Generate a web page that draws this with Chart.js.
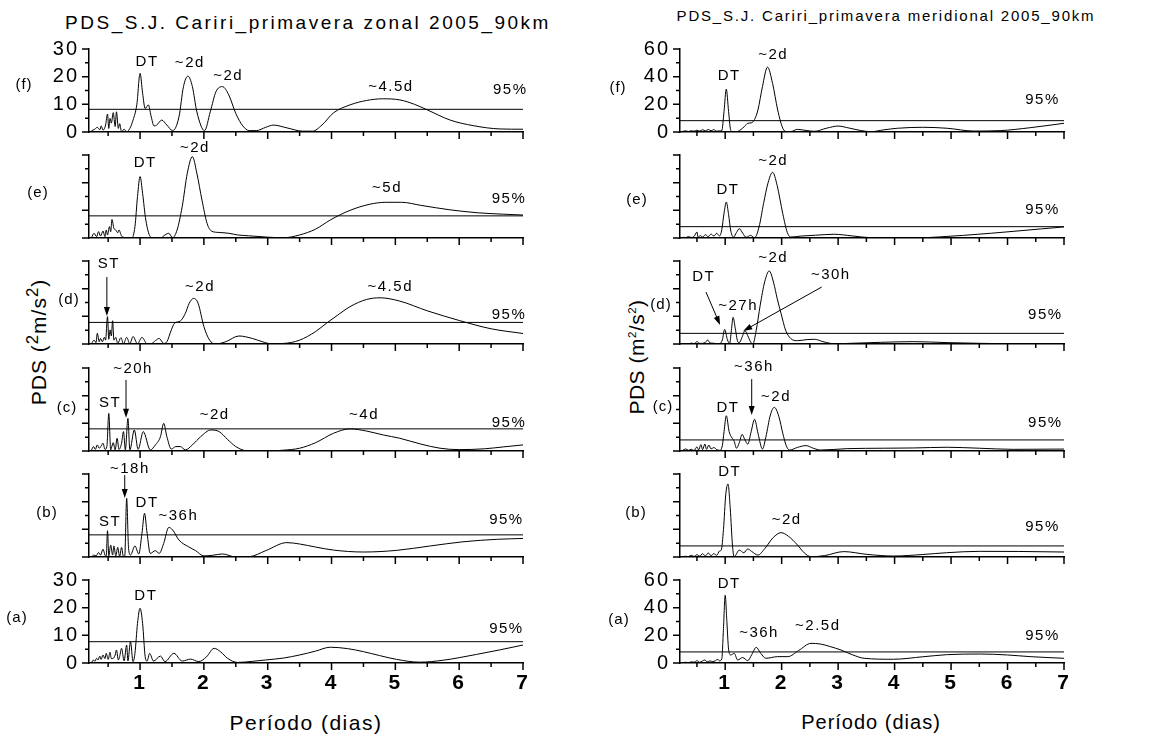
<!DOCTYPE html>
<html>
<head>
<meta charset="utf-8">
<script src="https://cdn.jsdelivr.net/npm/chart.js@4.4.0/dist/chart.umd.min.js"></script>
<style>
  body { margin: 0; width: 1164px; height: 737px; background: #fff; position: relative; overflow: hidden;
         font-family: "Liberation Sans", Arial, sans-serif; color: #000; }
  canvas { position: absolute; }
  .t { position: absolute; white-space: nowrap; line-height: 1; transform: translate(-50%, -50%); }
  .rot { transform: translate(-50%, -50%) rotate(-90deg); }
  .big { font-size: 0.8em; }
  .small { font-size: 0.55em; }
</style>
</head>
<body>

<div class="t" style="left:308px;top:22px;font-size:19px;letter-spacing:2.5px">PDS_S.J. Cariri_primavera zonal 2005_90km</div>
<div class="t" style="left:886px;top:15px;font-size:15px;letter-spacing:1.8px">PDS_S.J. Cariri_primavera meridional 2005_90km</div>
<div class="t" style="left:306px;top:722px;font-size:21px;letter-spacing:1.5px">Período (dias)</div>
<div class="t" style="left:871px;top:722px;font-size:20px;letter-spacing:1px">Período (dias)</div>
<div class="t rot" style="left:37px;top:342px;font-size:21px;letter-spacing:1px">PDS (<sup class="big">2</sup>m/s<sup class="big">2</sup>)</div>
<div class="t rot" style="left:636px;top:357px;font-size:21px;letter-spacing:0.5px">PDS (m<sup class="small">2</sup>/s<sup class="small">2</sup>)</div>

<script>
// zonal wind spectra, panels (a)..(f)
const periodZA = [0.24,0.27,0.29,0.32,0.34,0.37,0.39,0.42,0.45,0.47, 0.5,0.53,0.55,0.58,0.61,0.63,0.66,0.68,0.71,0.75,
                  0.79,0.81,0.85,0.89,0.92,0.96,1.0,1.04,1.08,1.11, 1.15,1.21,1.32,1.39,1.53,1.66,1.79,1.92,2.04,2.16,
                  2.26,2.37,2.53,2.76,2.97,3.25,3.5,3.75,3.98,4.25, 4.5,4.75,5.02,5.38,5.75,6.27,6.65,7.0];
const pdsZA    = [0.2,1.1,0.6,1.7,1.1,2.5,1.3,2.9,1.6,3.5, 1.3,3.9,1.6,1.7,2.9,4.7,1.1,2.3,5.3,0.8,
                  6.5,0.8,7.7,0.5,3.5,14.3,19.8,14.3,2.3,0.7, 3.5,0.7,2.5,0.5,3.5,0.7,1.4,0.5,2.2,5.3,
                  4.1,1.7,0.2,0.6,1.1,1.8,2.9,4.3,5.7,5.2, 4.1,2.7,1.3,0.3,1.0,3.1,4.8,6.5];

const periodZB = [0.24,0.28,0.31,0.35,0.38,0.42,0.45,0.47,0.49,0.51, 0.54,0.57,0.59,0.62,0.65,0.68,0.71,0.74,0.76,0.79,
                  0.82,0.85,0.92,0.98,1.03,1.07,1.11,1.16,1.24,1.3, 1.37,1.45,1.51,1.61,1.76,1.87,2.0,2.13,2.29,2.5,
                  2.71,2.97,3.3,3.5,3.75,4.03,4.5,5.02,5.55,6.06, 6.6,7.0];
const pdsZB    = [0.1,0.7,0.4,1.6,0.7,2.8,0.7,0.1,9.5,0.4, 4.3,0.7,4.0,0.4,3.5,0.1,3.5,0.1,0.2,21.2,
                  3.1,0.7,4.0,1.1,8.6,15.8,8.6,1.3,2.3,1.3, 4.9,10.7,9.8,6.1,3.7,2.3,0.4,0.6,1.1,0,
                  0.1,2.3,5.2,4.7,3.6,2.5,1.8,2.4,4.0,5.5, 6.4,6.7];

const periodZC = [0.24,0.27,0.3,0.33,0.36,0.39,0.42,0.45,0.48,0.51, 0.54,0.56,0.58,0.61,0.64,0.67,0.71,0.74,0.77,0.81,
                  0.84,0.91,0.97,1.05,1.16,1.24,1.32,1.37,1.42,1.49, 1.56,1.63,1.71,1.82,1.95,2.11,2.24,2.37,2.5,2.66,
                  2.8,3.0,3.25,3.5,3.75,4.03,4.29,4.55,4.81,5.07, 5.4,5.7,6.0,6.4,6.7,7.0];
const pdsZC    = [0.4,1.6,0.6,2.2,1.0,1.8,2.8,0.6,1.6,13.6, 0.4,1.8,3.0,0.4,4.6,0.6,2.8,7.0,0.4,11.8,
                  0.4,7.6,0.6,7.0,0.4,2.2,5.2,10.0,5.2,0.7, 1.6,1.6,0.4,2.2,5.2,7.6,7.0,4.2,1.6,0.1,
                  0,0,0.3,1.0,3.0,6.4,8.0,7.2,5.8,4.6, 2.5,1.0,0.5,0.8,1.5,2.2];

const periodZD = [0.24,0.28,0.31,0.33,0.36,0.38,0.41,0.44,0.46,0.49, 0.51,0.53,0.55,0.57,0.59,0.62,0.65,0.7,0.74,0.79,
                  0.84,0.89,0.96,1.03,1.11,1.18,1.24,1.3,1.37,1.42, 1.49,1.54,1.63,1.71,1.77,1.84,1.91,2.0,2.09,2.18,
                  2.34,2.55,2.76,2.92,3.05,3.25,3.5,3.75,3.92,4.1, 4.29,4.55,4.76,5.07,5.5,6.0,6.5,7.0];
const pdsZD    = [0.2,1.4,0.5,3.9,0.8,2.0,0.8,2.4,1.4,9.9, 1.7,5.1,2.9,8.4,1.4,2.4,0.2,2.3,0.1,2.4,
                  0.1,2.7,0.1,2.4,0.1,0.2,1.2,2.0,0.2,0.8, 5.1,7.5,8.3,11.1,14.7,16.5,14.7,6.3,1.4,0,
                  0.8,2.9,2.0,0.8,0.1,0.2,1.4,4.5,7.5,10.5, 13.5,16.1,16.7,15.5,12,8.5,5.5,3.8];

const periodZE = [0.24,0.28,0.32,0.35,0.38,0.42,0.45,0.47,0.49,0.52, 0.54,0.56,0.59,0.62,0.65,0.67,0.71,0.75,0.82,0.87,
                  0.92,0.96,1.0,1.04,1.09,1.16,1.21,1.32,1.39,1.45, 1.51,1.58,1.66,1.74,1.82,1.89,1.97,2.05,2.12,2.24,
                  2.39,2.53,2.7,3.0,3.25,3.5,3.75,3.98,4.29,4.6, 4.85,5.1,5.4,5.85,6.3,6.7,7.0];
const pdsZE    = [0.2,1.7,0.5,2.3,0.7,2.5,0.5,2.9,1.1,4.1, 2.3,6.7,3.5,2.9,1.9,2.9,0.7,0.2,0,0,
                  4.1,15,22.2,16.1,6.5,0.5,0,0,1.1,1.7, 0.1,2.9,11.3,23.4,29.4,23.4,13.7,5.3,2.5,2.0,
                  1.7,1.1,0.8,0.3,0.1,1.1,3.2,6.5,10,12.2, 12.9,12.9,11.8,10.2,9.1,8.6,8.3];

const periodZF = [0.24,0.29,0.33,0.37,0.39,0.42,0.46,0.49,0.51,0.53, 0.55,0.58,0.61,0.63,0.66,0.68,0.71,0.75,0.79,0.84,
                  0.89,0.95,1.0,1.04,1.08,1.13,1.17,1.22,1.26,1.34, 1.42,1.51,1.61,1.68,1.75,1.82,1.89,2.01,2.1,2.19,
                  2.29,2.39,2.5,2.61,2.71,2.82,2.97,3.09,3.3,3.55, 3.7,3.85,4.03,4.29,4.55,4.8,5.07,5.3,5.5,5.86,
                  6.22,6.64,7.0];
const pdsZF    = [0.5,1.0,1.7,0.8,2.2,0.7,2.5,6.5,1.3,4.9, 3.2,7.0,2.0,7.3,1.3,3.0,0.1,1.0,0.1,1.3,
                  4.3,10.0,21.2,14.0,8.5,9.8,6.0,2.2,2.5,4.3, 2.5,0.5,5.5,16.4,20.2,16.4,7.3,0.5,7.3,14.6,
                  16.4,13.4,6.7,2.2,0.5,0.5,1.7,2.5,1.5,0.3, 0.3,2.5,6.9,9.8,11.4,12.0,11.6,10.0,8.0,4.3,
                  2.3,1.1,1.0];

// meridional wind spectra, panels (a)..(f)
const periodMA = [0.25,0.3,0.35,0.4,0.45,0.5,0.55,0.6,0.64,0.68, 0.73,0.78,0.83,0.87,0.9,0.94,0.97,1.0,1.03,1.06,
                  1.1,1.16,1.22,1.31,1.4,1.47,1.55,1.63,1.72,1.93, 2.11,2.3,2.52,2.69,2.85,3.05,3.25,3.46,3.98,4.5,
                  4.92,5.51,6.0,6.4,7.0];
const pdsMA    = [0.2,0.5,0.3,0.8,0.6,1.7,0.5,1.5,2.2,0.8, 1.5,1,1.7,2.7,1.5,3,25,49,30,10,
                  5.8,7,2.2,3.9,1.7,6,11.3,7,3.4,4.6, 4.6,9,14.2,13.7,12,9.4,6,3.4,2.7,4.5,
                  6,6.5,5.8,4.6,3.4];

const periodMB = [0.25,0.3,0.35,0.4,0.45,0.5,0.55,0.6,0.65,0.7, 0.75,0.8,0.85,0.9,0.93,0.97,1.01,1.05,1.09,1.13,
                  1.16,1.25,1.33,1.4,1.47,1.58,1.7,1.85,1.99,2.12, 2.28,2.4,2.52,2.76,3.1,3.51,3.98,4.5,4.92,5.51,
                  6.2,7.0];
const pdsMB    = [0.3,0.5,0.3,1.2,0.4,1.7,0.6,2.4,0.8,2.9, 1,2.4,1.2,4.3,5,20,45,52.8,35,8,
                  0.2,5,3.1,5.8,4,1.4,6,14,17.6,15, 8.7,3,0.2,1,3.9,1.9,0.7,1.8,3.1,4.1,
                  4,3.6];

const periodMC = [0.25,0.3,0.35,0.4,0.45,0.5,0.53,0.57,0.6,0.64, 0.67,0.71,0.75,0.8,0.85,0.9,0.95,0.98,1.02,1.07,
                  1.12,1.16,1.2,1.25,1.3,1.35,1.4,1.46,1.52,1.58, 1.66,1.72,1.8,1.87,1.95,2.02,2.08,2.14,2.28,2.43,
                  2.56,2.69,3.16,3.8,4.34,4.93,5.5,6.1,7.0];
const pdsMC    = [0.5,1.5,0.5,1.2,0.3,3,0.8,4.6,1,5, 1.2,4.3,1.5,2.5,1,0.5,4,14,25.5,14,
                  9.5,7,2,6,12,8,5,14,22.9,13, 1.4,10,26,31.6,25,12.8,4,0.7,2.6,3.9,
                  2,0.7,1.7,2,2.2,2.7,2,1.2,1.4];

const periodMD = [0.25,0.3,0.35,0.4,0.45,0.5,0.55,0.6,0.65,0.69, 0.73,0.78,0.84,0.9,0.95,0.99,1.04,1.08,1.11,1.14,
                  1.18,1.22,1.25,1.3,1.35,1.4,1.45,1.49,1.55,1.62, 1.7,1.78,1.86,1.92,1.99,2.07,2.16,2.28,2.45,2.58,
                  2.75,2.93,3.3,3.75,4.34,4.93,5.5,6.1,7.0];
const pdsMD    = [0,0.3,0.2,0.6,0.3,1.7,0.4,0.5,1.2,2.9, 0.8,0.6,0.3,0.2,3,10.6,3,0.5,10,19.3,
                  11,2,1,5,9.6,6,1.5,0,10,28, 45,52.8,44,33,22,10,4,2.4,3.2,3.4,
                  1.5,0.2,0.6,1.2,1.7,1,0.5,0.2,0.2];

const periodME = [0.25,0.3,0.35,0.4,0.45,0.5,0.52,0.56,0.6,0.65, 0.7,0.75,0.8,0.85,0.9,0.94,0.98,1.02,1.06,1.1,
                  1.15,1.2,1.25,1.31,1.37,1.45,1.52,1.6,1.68,1.76, 1.84,1.92,2.02,2.1,2.16,2.34,2.6,2.93,3.25,3.58,
                  4.0,4.34,4.8,5.22,5.7,6.1,6.6,7.0];
const pdsME    = [0.5,0.3,1.0,0.4,1.2,4.3,0.6,1.7,0.7,2.4, 1.0,2.9,1.4,3.4,1.5,6,18,26,17,5,
                  0.7,4,6.7,3.5,0.5,1.9,0.2,8,25,40, 47.5,38,17.6,4,0.7,1.4,2,2.7,1.5,0.2,
                  0,0,0.8,1.9,3.4,4.8,6.6,8];

const periodMF = [0.25,0.3,0.35,0.4,0.45,0.5,0.55,0.6,0.65,0.7, 0.75,0.8,0.85,0.9,0.94,0.98,1.02,1.06,1.1,1.16,
                  1.22,1.34,1.4,1.47,1.52,1.58,1.66,1.75,1.84,1.93, 2.02,2.08,2.16,2.28,2.45,2.58,2.8,3.0,3.2,3.4,
                  3.58,3.8,4.05,4.5,4.93,5.4,5.87,6.4,7.0];
const pdsMF    = [0.5,0.8,0.4,0.9,0.6,1.3,0.7,1.6,0.8,1.8, 0.9,1.7,0.6,0.8,1.0,15,31,15,1.0,0,
                  0.3,3.9,6.3,6.7,9,15.9,32.8,46.9,35,15.9, 2.7,0.3,0.3,1.9,1.0,0.5,2.8,4.3,2.8,1.1,
                  0.2,1.5,2.7,3.4,2.7,0.7,1.0,3.1,6.3];

// 95% confidence levels, (a)..(f)
const sig95Zonal = [7.7, 8.0, 8.0, 7.8, 8.0, 8.2];
const sig95Merid = [8.0, 8.0, 8.0, 7.7, 8.2, 8.2];

const periodTicks = [0.5,1,1.5,2,2.5,3,3.5,4,4.5,5,5.5,6,6.5,7];
const zonalTicks = [0,5,10,15,20,25,30];
const meridTicks = [0,10,20,30,40,50,60];

const FONT = '"Liberation Sans", Arial, sans-serif';
const PLOT_H = 83, PAD_TOP = 40;
const bases = [663, 557, 451, 344, 238, 132]; // zero line of (a)..(f)

const columns = [
  { left: 0,   width: 560, plotLeft: 89,  plotRight: 523,  ticks: zonalTicks, major: 10 },
  { left: 580, width: 584, plotLeft: 680, plotRight: 1064, ticks: meridTicks, major: 20 }
];

// notes: [text, period, pds]; arrows: [fromPeriod, fromPds, toPeriod, toPds]
const panels = [
  { col: 0, row: 5, tag: '(f)', tagAt: [24, 85], period: periodZF, pds: pdsZF, sig: sig95Zonal[5],
    notes: [['DT', 1.11, 25.3], ['~2d', 1.78, 24.9], ['~2d', 2.38, 20.2], ['~4.5d', 4.93, 16.3], ['95%', 6.8, 15.2]], arrows: [] },
  { col: 0, row: 4, tag: '(e)', tagAt: [38, 193], period: periodZE, pds: pdsZE, sig: sig95Zonal[4],
    notes: [['DT', 1.08, 27.1], ['~2d', 1.86, 32.5], ['~5d', 4.87, 18], ['95%', 6.78, 14.1]], arrows: [] },
  { col: 0, row: 3, tag: '(d)', tagAt: [69, 300], period: periodZD, pds: pdsZD, sig: sig95Zonal[3],
    notes: [['ST', 0.51, 28.9], ['~2d', 1.94, 20.6], ['~4.5d', 4.92, 20.6], ['95%', 6.78, 10.5]],
    arrows: [[0.48, 24.2, 0.48, 10.1]] },
  { col: 0, row: 2, tag: '(c)', tagAt: [67, 408], period: periodZC, pds: pdsZC, sig: sig95Zonal[2],
    notes: [['~20h', 0.89, 29.6], ['ST', 0.53, 17.3], ['~2d', 2.17, 13], ['~4d', 4.51, 13], ['95%', 6.78, 10.1]],
    arrows: [[0.78, 25.7, 0.78, 12]] },
  { col: 0, row: 1, tag: '(b)', tagAt: [47, 513], period: periodZB, pds: pdsZB, sig: sig95Zonal[1],
    notes: [['~18h', 0.84, 32], ['ST', 0.53, 12.6], ['DT', 1.11, 19.5], ['~36h', 1.6, 14.8], ['95%', 6.74, 13.4]],
    arrows: [[0.76, 29.6, 0.76, 21.3]] },
  { col: 0, row: 0, tag: '(a)', tagAt: [17, 618], period: periodZA, pds: pdsZA, sig: sig95Zonal[0],
    notes: [['DT', 1.09, 24.2], ['95%', 6.74, 12.3]], arrows: [] },

  { col: 1, row: 5, tag: '(f)', tagAt: [618, 88], period: periodMF, pds: pdsMF, sig: sig95Merid[5],
    notes: [['DT', 1.07, 40.5], ['~2d', 1.85, 55.7], ['95%', 6.62, 23.1]], arrows: [] },
  { col: 1, row: 4, tag: '(e)', tagAt: [637, 200], period: periodME, pds: pdsME, sig: sig95Merid[4],
    notes: [['DT', 1.05, 34.7], ['~2d', 1.85, 55.7], ['95%', 6.62, 20.2]], arrows: [] },
  { col: 1, row: 3, tag: '(d)', tagAt: [661, 305], period: periodMD, pds: pdsMD, sig: sig95Merid[3],
    notes: [['~2d', 1.85, 62.2], ['DT', 0.62, 48.4], ['~27h', 1.23, 27.5], ['~30h', 2.87, 49.9], ['95%', 6.67, 21]],
    arrows: [[0.66, 37.6, 0.91, 13.7], [2.71, 41.2, 1.32, 9.4]] },
  { col: 1, row: 2, tag: '(c)', tagAt: [663, 407], period: periodMC, pds: pdsMC, sig: sig95Merid[2],
    notes: [['~36h', 1.51, 60.7], ['DT', 1.05, 31], ['~2d', 1.9, 39], ['95%', 6.67, 20.2]],
    arrows: [[1.47, 52, 1.47, 26]] },
  { col: 1, row: 1, tag: '(b)', tagAt: [636, 513], period: periodMB, pds: pdsMB, sig: sig95Merid[1],
    notes: [['DT', 1.08, 61.5], ['~2d', 2.09, 26.8], ['95%', 6.62, 21.7]], arrows: [] },
  { col: 1, row: 0, tag: '(a)', tagAt: [619, 620], period: periodMA, pds: pdsMA, sig: sig95Merid[0],
    notes: [['DT', 1.07, 57], ['~36h', 1.6, 21.7], ['~2.5d', 2.64, 26.8], ['95%', 6.62, 19.5]], arrows: [] }
];

// tick marks, labels, arrows and the panel letter
function panelMarks(p, col, top) {
  return {
    id: 'panelMarks',
    beforeDraw(chart) { chart.ctx.letterSpacing = '2px'; },
    afterDraw(chart) {
      const { ctx, scales: { x, y } } = chart;
      ctx.save();
      ctx.strokeStyle = '#000';
      ctx.fillStyle = '#000';
      ctx.lineWidth = 1.5;
      ctx.beginPath();
      for (const v of periodTicks) {
        const px = x.getPixelForValue(v);
        ctx.moveTo(px, y.bottom);
        ctx.lineTo(px, y.bottom + (Number.isInteger(v) ? 7 : 4));
      }
      for (const v of col.ticks) {
        const py = y.getPixelForValue(v);
        ctx.moveTo(x.left, py);
        ctx.lineTo(x.left - (v % col.major === 0 ? 7 : 4), py);
      }
      ctx.stroke();

      ctx.font = '15px ' + FONT;
      ctx.letterSpacing = '1.5px';
      ctx.textAlign = 'center';
      ctx.textBaseline = 'middle';
      for (const [text, px, py] of p.notes) {
        ctx.fillText(text, x.getPixelForValue(px), y.getPixelForValue(py));
      }

      ctx.lineWidth = 1;
      for (const [x0, y0, x1, y1] of p.arrows) {
        const ax = x.getPixelForValue(x0), ay = y.getPixelForValue(y0);
        const bx = x.getPixelForValue(x1), by = y.getPixelForValue(y1);
        const a = Math.atan2(by - ay, bx - ax), c = Math.cos(a), s = Math.sin(a);
        ctx.beginPath();
        ctx.moveTo(ax, ay);
        ctx.lineTo(bx - 8 * c, by - 8 * s);
        ctx.stroke();
        ctx.beginPath();
        ctx.moveTo(bx, by);
        ctx.lineTo(bx - 9 * c + 3 * s, by - 9 * s - 3 * c);
        ctx.lineTo(bx - 9 * c - 3 * s, by - 9 * s + 3 * c);
        ctx.closePath();
        ctx.fill();
      }

      ctx.letterSpacing = '1px';
      ctx.fillText(p.tag, p.tagAt[0] - col.left, p.tagAt[1] - top);
      ctx.restore();
    }
  };
}

function makePanel(p) {
  const col = columns[p.col];
  const bottomRow = p.row === 0;
  const edgeRow = p.row === 0 || p.row === 5;
  const top = bases[p.row] - PLOT_H - PAD_TOP;
  const height = PAD_TOP + PLOT_H + (bottomRow ? 64 : 26);
  const ymax = col.ticks[col.ticks.length - 1];

  const cv = document.createElement('canvas');
  cv.width = col.width;
  cv.height = height;
  cv.style.left = col.left + 'px';
  cv.style.top = top + 'px';
  document.body.appendChild(cv);

  new Chart(cv, {
    type: 'line',
    data: {
      datasets: [
        { data: p.period.map((v, i) => ({ x: v, y: p.pds[i] })), borderColor: '#000', borderWidth: 1,
          pointRadius: 0, cubicInterpolationMode: 'monotone', fill: false },
        { data: [{ x: 0.2, y: p.sig }, { x: 7, y: p.sig }], borderColor: '#000', borderWidth: 1,
          pointRadius: 0, fill: false }
      ]
    },
    options: {
      responsive: false,
      animation: false,
      events: [],
      layout: { padding: { top: PAD_TOP, right: col.left + col.width - col.plotRight, left: 0, bottom: 0 } },
      plugins: { legend: { display: false }, tooltip: { enabled: false } },
      scales: {
        x: {
          type: 'linear', min: 0.2, max: 7, bounds: 'data',
          afterBuildTicks: s => { s.ticks = periodTicks.map(v => ({ value: v })); },
          afterFit: s => { s.height = height - PAD_TOP - PLOT_H; },
          grid: { display: false, drawTicks: false },
          border: { display: true, color: '#000', width: 1.5 },
          ticks: {
            autoSkip: false, maxRotation: 0, padding: 8, color: '#000',
            font: { family: FONT, size: 21, weight: 'bold' },
            callback: v => (bottomRow && Number.isInteger(v)) ? String(v) : ''
          }
        },
        y: {
          type: 'linear', min: 0, max: ymax, bounds: 'data',
          afterBuildTicks: s => { s.ticks = col.ticks.map(v => ({ value: v })); },
          afterFit: s => { s.width = col.plotLeft - col.left; },
          grid: { display: false, drawTicks: false },
          border: { display: true, color: '#000', width: 1.5 },
          ticks: {
            autoSkip: false, padding: 10, color: '#000',
            font: { family: FONT, size: 20 },
            callback: v => (edgeRow && v % col.major === 0) ? String(v) : ''
          }
        }
      }
    },
    plugins: [panelMarks(p, col, top)]
  });
}

panels.forEach(makePanel);
</script>
</body>
</html>
